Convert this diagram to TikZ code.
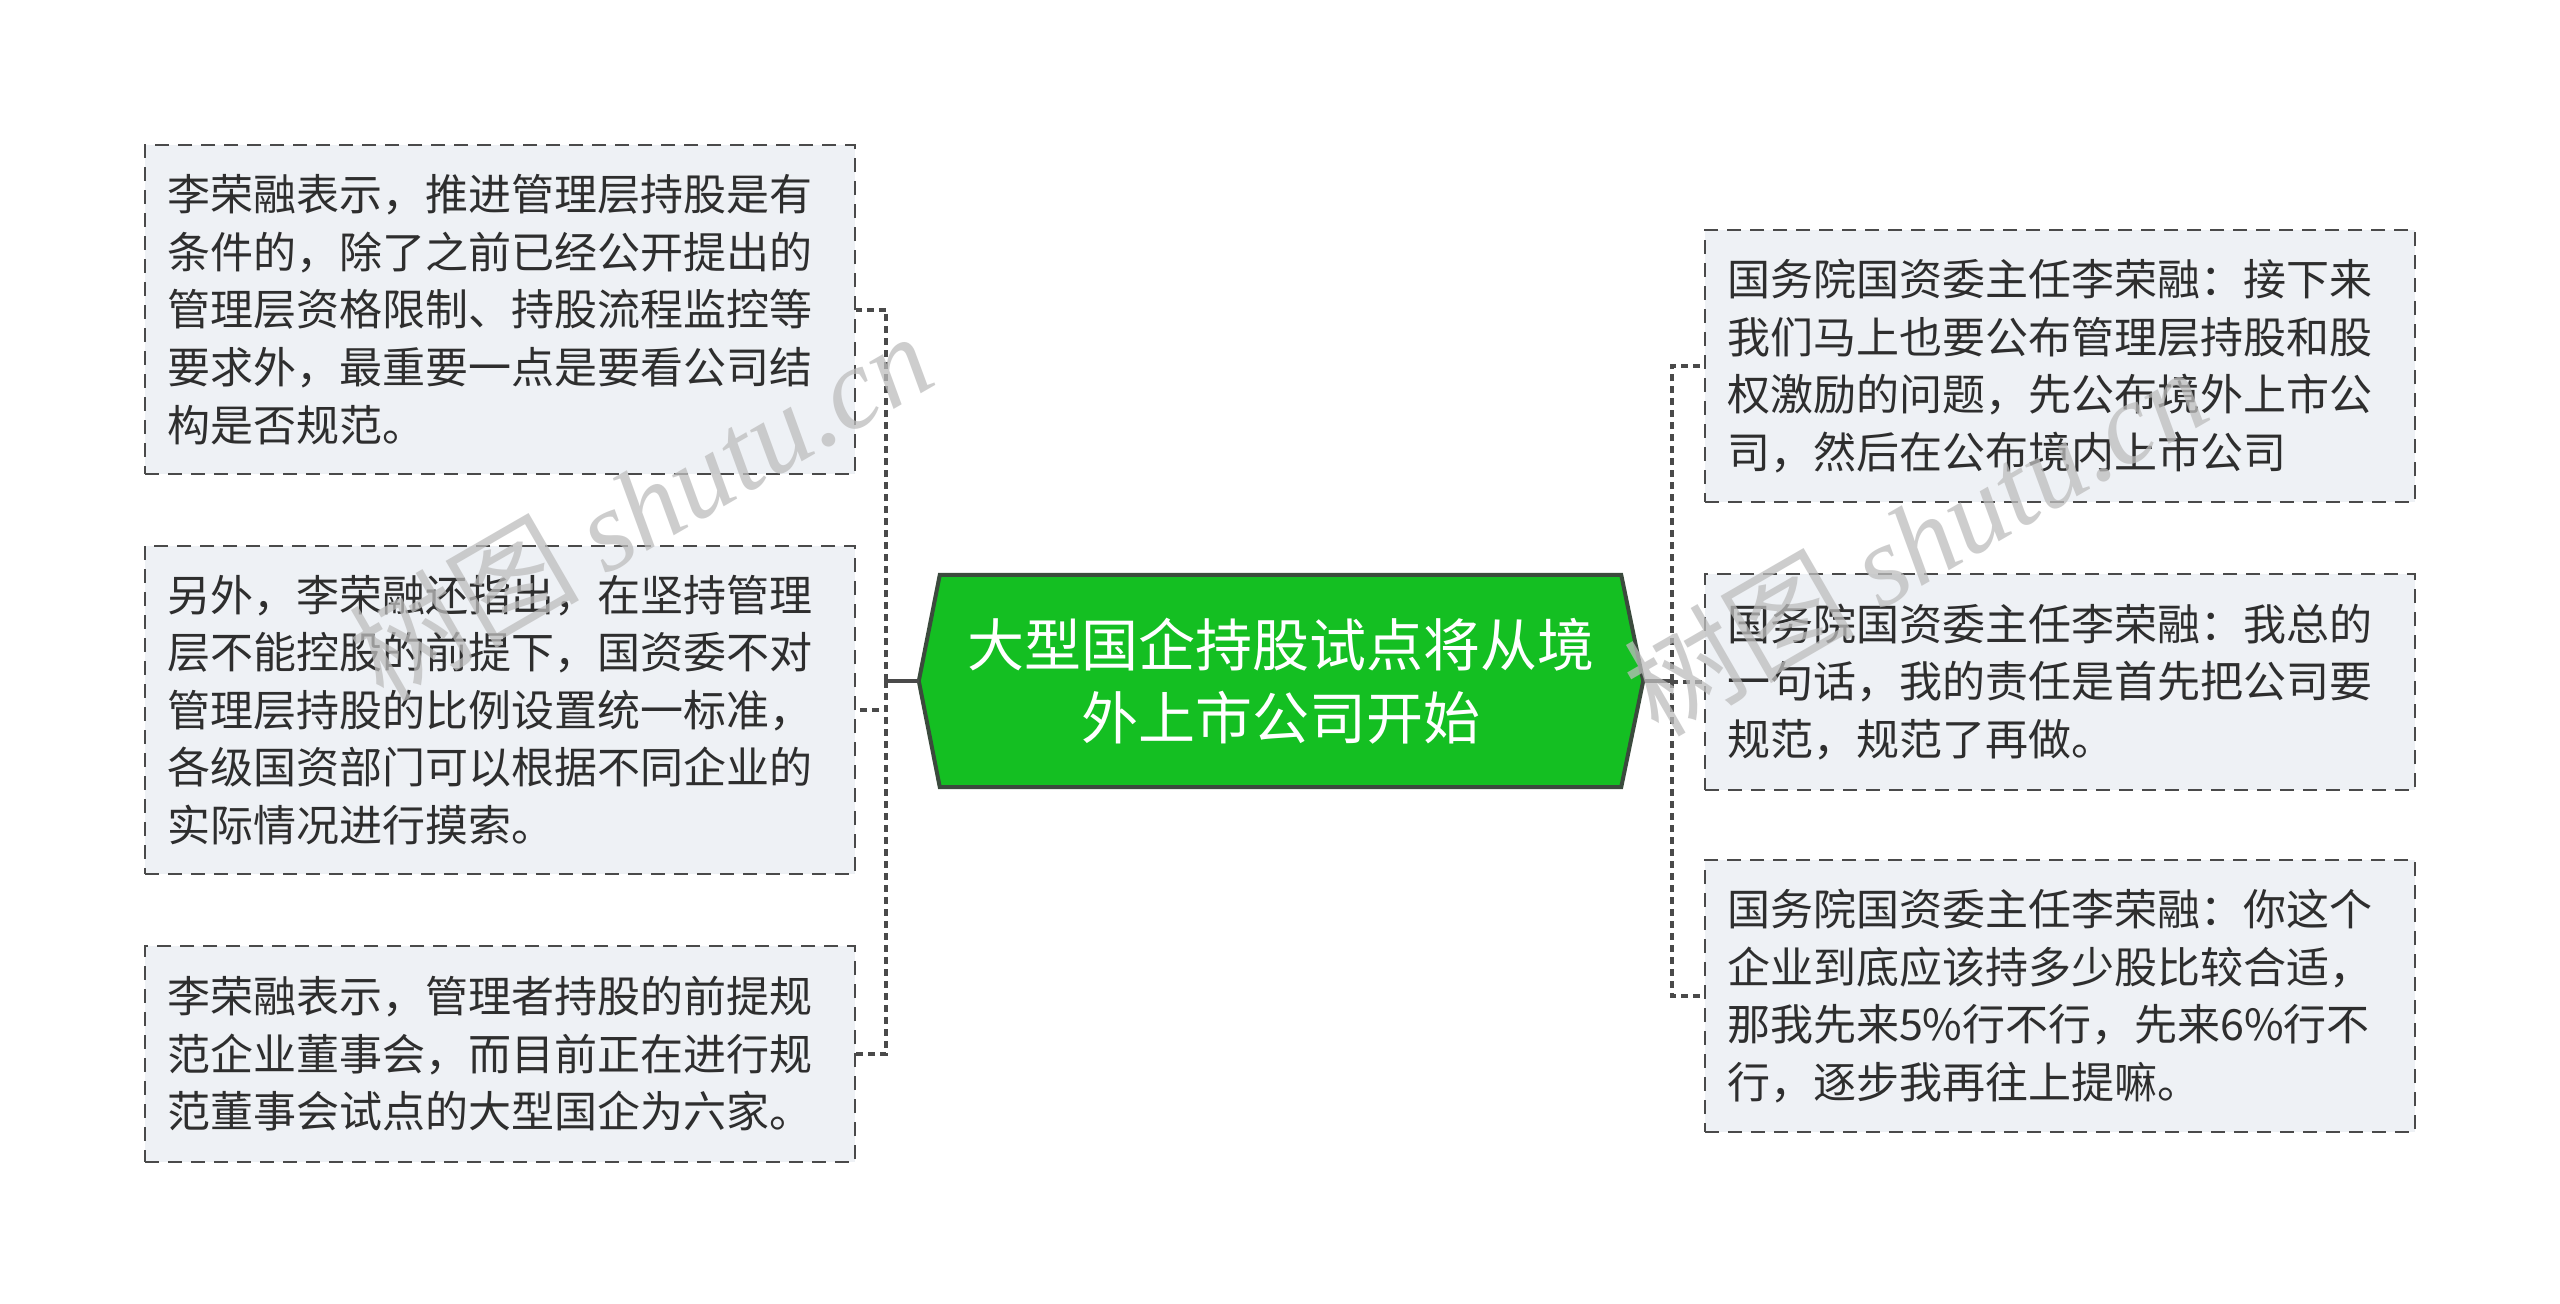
\documentclass[tikz,border=0pt]{standalone}
\usepackage{fontspec}
\setmainfont{Noto Sans CJK SC}
\newfontfamily\wmfont{Liberation Serif}
\usetikzlibrary{backgrounds}
\definecolor{boxfill}{HTML}{EEF1F5}
\definecolor{linec}{HTML}{4A4A4A}
\definecolor{textc}{HTML}{2E2E2E}
\definecolor{rootfill}{HTML}{14BF22}
\definecolor{rootline}{HTML}{3B4A3D}
\definecolor{wmc}{HTML}{BDBDBD}
\tikzset{
  leaf/.style={draw=linec, dash pattern=on 14pt off 9pt, line width=2pt, fill=boxfill,
    rectangle, minimum width=710pt, inner xsep=22pt, inner ysep=0pt, text width=666pt,
    align=left, font=\fontsize{43}{57.6}\selectfont, text=textc, anchor=north west},
  rootnode/.style={rectangle, minimum width=724pt, minimum height=212pt, inner sep=0pt,
    text=white, align=center, font=\fontsize{57}{73.5}\selectfont},
  stub/.style={draw=linec, line width=3.5pt},
  dconn/.style={draw=linec, line width=4pt, dash pattern=on 7pt off 5pt},
  wm/.style={text=wmc, opacity=0.75, font=\fontsize{115}{120}\selectfont, inner sep=0pt}
}
\begin{document}
\begin{tikzpicture}[x=1pt,y=-1pt]
\useasboundingbox (0,0) rectangle (2560,1304);

% root
\node[rootnode] (c) at (1281,681) {大型国企持股试点将从境\\外上市公司开始};
\begin{scope}[on background layer]
\fill[white] (0,0) rectangle (2560,1304);
\draw[fill=rootfill, draw=rootline, line width=4pt, line join=miter]
  ([xshift=21pt]c.north west) -- ([xshift=-22pt]c.north east) -- (c.east)
  -- ([xshift=-22pt]c.south east) -- ([xshift=21pt]c.south west) -- (c.west) -- cycle;
\end{scope}

% left boxes
\node[leaf, minimum height=329pt] (l1) at (144,144) {李荣融表示，推进管理层持股是有\\条件的，除了之前已经公开提出的\\管理层资格限制、持股流程监控等\\要求外，最重要一点是要看公司结\\构是否规范。};
\node[leaf, minimum height=328pt] (l2) at (144,545) {另外，李荣融还指出，在坚持管理\\层不能控股的前提下，国资委不对\\管理层持股的比例设置统一标准，\\各级国资部门可以根据不同企业的\\实际情况进行摸索。};
\node[leaf, minimum height=216pt] (l3) at (144,945) {李荣融表示，管理者持股的前提规\\范企业董事会，而目前正在进行规\\范董事会试点的大型国企为六家。};

% right boxes
\node[leaf, minimum height=272pt] (r1) at (1704,229) {国务院国资委主任李荣融：接下来\\我们马上也要公布管理层持股和股\\权激励的问题，先公布境外上市公\\司，然后在公布境内上市公司};
\node[leaf, minimum height=216pt] (r2) at (1704,573) {国务院国资委主任李荣融：我总的\\一句话，我的责任是首先把公司要\\规范，规范了再做。};
\node[leaf, minimum height=272pt] (r3) at (1704,859) {国务院国资委主任李荣融：你这个\\企业到底应该持多少股比较合适，\\那我先来5\%行不行，先来6\%行不\\行，逐步我再往上提嘛。};

% junctions
\coordinate (jl) at (886,681);
\coordinate (jr) at (1672,681);

% connectors
\draw[stub] (c.west) -- (jl);
\draw[stub] (c.east) -- (jr);
\draw[dconn] (jl) |- (l1.east);
\draw[dconn] (jl) |- (l2.east);
\draw[dconn] (jl) |- (l3.east);
\draw[dconn] (jr) |- (r1.west);
\draw[dconn] (jr) |- (r2.west);
\draw[dconn] (jr) |- (r3.west);

% watermarks
\node[wm, rotate=30] (wm1) at (640,505) {树图 {\wmfont\itshape shutu.cn}};
\node[wm, rotate=30] (wm2) at (1915,540) {树图 {\wmfont\itshape shutu.cn}};
\end{tikzpicture}
\end{document}
